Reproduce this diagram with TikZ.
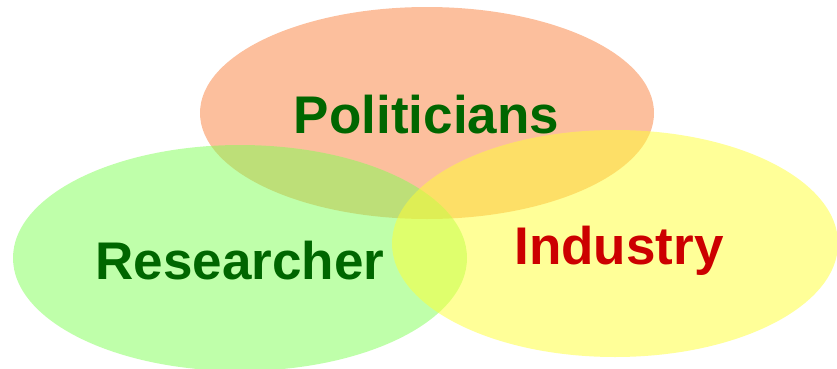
\documentclass[tikz,border=0pt]{standalone}
\usepackage{fontspec}
\setmainfont{Liberation Sans}
\usetikzlibrary{shapes.geometric}
\definecolor{polfill}{RGB}{250,128,60}
\definecolor{resfill}{RGB}{128,255,85}
\definecolor{indfill}{RGB}{255,255,50}
\definecolor{labgreen}{RGB}{0,102,0}
\definecolor{labred}{RGB}{204,0,0}
\tikzset{
  blob/.style={ellipse, inner sep=0pt, fill opacity=0.5, draw=none},
  lab/.style={anchor=base, inner sep=0pt, font=\fontsize{53}{60}\selectfont\bfseries}
}
\begin{document}
\begin{tikzpicture}[x=1pt,y=1pt]
  \useasboundingbox (0,0) rectangle (837,368);
  % overlapping sets
  \node[blob, fill=polfill, minimum width=454pt, minimum height=212pt] (pol) at (427,255) {};
  \node[blob, fill=resfill, minimum width=454pt, minimum height=226pt] (res) at (240,110) {};
  \node[blob, fill=indfill, minimum width=446pt, minimum height=227pt] (ind) at (615,124.5) {};
  % labels
  \node[lab, text=labgreen] (tpol) at (426.5,235) {Politicians};
  \node[lab, text=labgreen] (tres) at (240,89) {Researcher};
  \node[lab, text=labred] (tind) at (619,104) {Industry};
\end{tikzpicture}
\end{document}
